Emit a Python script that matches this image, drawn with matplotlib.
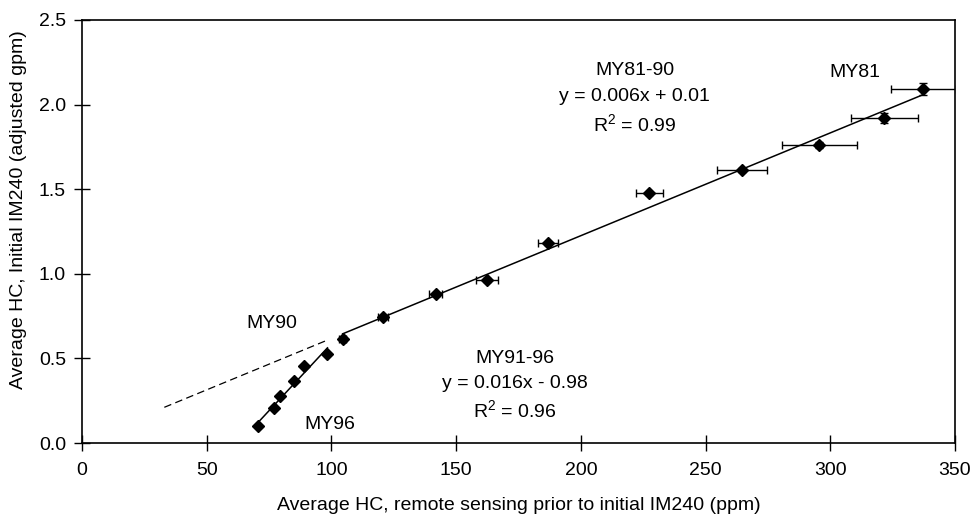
import numpy as np
import matplotlib
matplotlib.use("Agg")
import matplotlib.pyplot as plt

plt.rcParams['font.family'] = ['Liberation Sans', 'DejaVu Sans']
plt.rcParams['mathtext.fontset'] = 'custom'
plt.rcParams['mathtext.rm'] = 'Liberation Sans'
plt.rcParams['mathtext.it'] = 'Liberation Sans:italic'

# MY81-90 group (with error bars)
x_8190 = [104.5, 120.7, 141.8, 162.3, 186.7, 227.5, 264.5, 295.6, 321.7, 337.3]
y_8190 = [0.613, 0.745, 0.879, 0.963, 1.180, 1.476, 1.613, 1.761, 1.919, 2.092]
xerr_8190 = [1.5, 2.0, 2.7, 4.5, 4.0, 5.3, 10.0, 15.0, 13.4, 13.0]
yerr_8190 = [0.01, 0.01, 0.01, 0.01, 0.01, 0.01, 0.012, 0.02, 0.03, 0.037]

# MY91-96 group
x_9196 = [70.7, 77.0, 79.4, 85.1, 89.0, 98.4]
y_9196 = [0.100, 0.209, 0.278, 0.368, 0.455, 0.524]

dash_x = [33, 98]

xticks = [0, 50, 100, 150, 200, 250, 300, 350]
yticks = [0.0, 0.5, 1.0, 1.5, 2.0, 2.5]

FS = 14

fig = plt.figure(figsize=(9.75, 5.15), dpi=100)
ax = fig.add_axes([82/975, 1 - 443/515, (955 - 82)/975, (443 - 20)/515])

# fits
p1 = np.polyfit(x_8190, y_8190, 1)
p2 = np.polyfit(x_9196, y_9196, 1)
xa = np.array([min(x_8190), max(x_8190)])
ax.plot(xa, np.polyval(p1, xa), color='black', lw=1.1, zorder=2)
xd = np.array(dash_x)
ax.plot(xd, np.polyval(p1, xd), color='black', lw=0.9, ls=(0, (6, 3.5)), zorder=2)
xb = np.array([min(x_9196), max(x_9196)])
ax.plot(xb, np.polyval(p2, xb), color='black', lw=1.1, zorder=2)

ax.errorbar(x_8190, y_8190, xerr=xerr_8190, yerr=yerr_8190, fmt='D', color='black',
            ms=6.5, elinewidth=1.0, capsize=3, capthick=1.0, zorder=3)
ax.plot(x_9196, y_9196, 'D', color='black', ms=6.5, zorder=3)

ax.set_xlim(0, 350)
ax.set_ylim(0, 2.5)
ax.set_xticks(xticks)
ax.set_yticks(yticks)
ax.set_yticklabels([f"{v:.1f}" for v in yticks])
ax.tick_params(direction='inout', length=11, width=1.0, labelsize=FS, colors='black')
ax.tick_params(axis='y', pad=6)
ax.tick_params(axis='x', pad=8)
for s in ax.spines.values():
    s.set_linewidth(1.2)

ax.set_xlabel("Average HC, remote sensing prior to initial IM240 (ppm)", fontsize=FS)
ax.set_ylabel("Average HC, Initial IM240 (adjusted gpm)", fontsize=FS)
ax.yaxis.set_label_coords(-0.073, (443 - 210) / 423)
ax.xaxis.set_label_coords(0.5, -(505 - 443) / 423)
ax.xaxis.label.set_va('center')
ax.yaxis.label.set_va('center')

tk = dict(fontsize=FS, ha='center', va='center')
ax.text(221.5, 2.200, "MY81-90", **tk)
ax.text(221.5, 2.045, "y = 0.006x + 0.01", **tk)
ax.text(221.5, 1.885, r"R$^{\mathregular{2}}$ = 0.99", **tk)
ax.text(173.5, 0.502, "MY91-96", **tk)
ax.text(173.5, 0.352, "y = 0.016x - 0.98", **tk)
ax.text(173.5, 0.192, r"R$^{\mathregular{2}}$ = 0.96", **tk)
ax.text(310, 2.187, "MY81", **tk)
ax.text(76.2, 0.709, "MY90", **tk)
ax.text(99.4, 0.112, "MY96", **tk)

fig.savefig("out.png", dpi=100)
